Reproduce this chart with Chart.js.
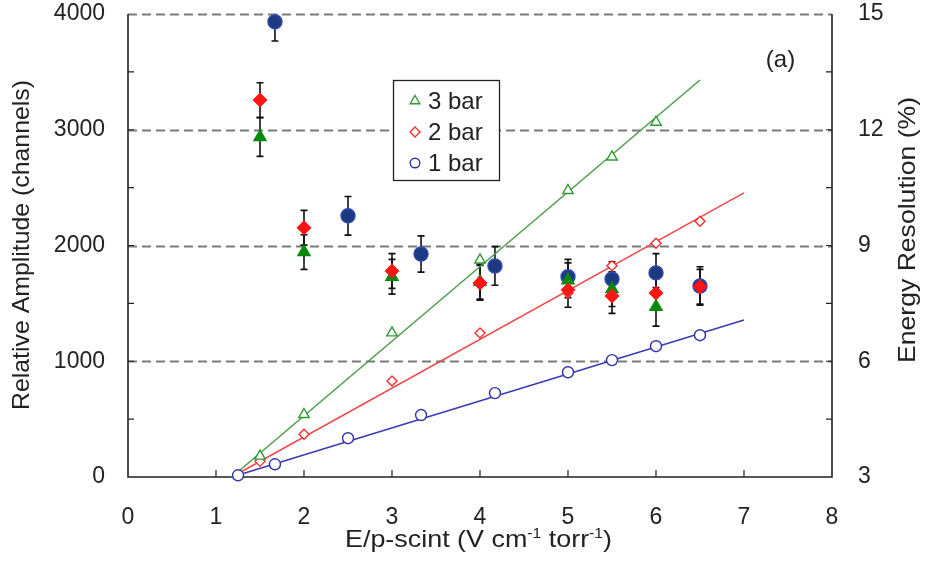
<!DOCTYPE html>
<html>
<head>
<meta charset="utf-8">
<script src="https://cdn.jsdelivr.net/npm/chart.js@4.4.1/dist/chart.umd.min.js"></script>
<style>
  body { margin: 0; background: #fff; }
  #wrap { width: 927px; height: 563px; }
</style>
</head>
<body>
<div id="wrap"><canvas id="chart" width="927" height="563"></canvas></div>
<script>
// amplitude (open markers, left axis)
const ampX3 = [1.5, 2, 3, 4, 5, 5.5, 6];
const amp3 = [180, 540, 1245, 1875, 2475, 2765, 3065];
const ampX2 = [1.5, 2, 3, 4, 5, 5.5, 6, 6.5];
const amp2 = [135, 370, 830, 1245, 1590, 1825, 2020, 2210];
const ampX1 = [1.25, 1.67, 2.5, 3.33, 4.17, 5, 5.5, 6, 6.5];
const amp1 = [15, 110, 335, 535, 725, 905, 1010, 1130, 1225];

// linear fits (end points)
const fitX3 = [1.18, 6.5];
const fit3 = [0, 3430];
const fitX2 = [1.18, 7];
const fit2 = [0, 2455];
const fitX1 = [1.18, 7];
const fit1 = [0, 1357];

// energy resolution (filled markers, right axis)
const resX3 = [1.5, 2, 3, 4, 5, 5.5, 6];
const res3 = [11.81, 8.83, 8.19, 8.06, 8.1, 7.87, 7.41];
const err3 = [0.5, 0.45, 0.45, 0.45, 0.45, 0.45, 0.5];
const resX2 = [1.5, 2, 3, 4, 5, 5.5, 6, 6.5];
const res2 = [12.77, 9.46, 8.34, 8.03, 7.85, 7.69, 7.77, 7.93];
const err2 = [0.45, 0.45, 0.45, 0.45, 0.45, 0.45, 0.45, 0.45];
const resX1 = [1.67, 2.5, 3.33, 4.17, 5, 5.5, 6, 6.5];
const res1 = [14.8, 9.77, 8.78, 8.47, 8.19, 8.13, 8.29, 7.95];
const err1 = [0.5, 0.5, 0.47, 0.5, 0.45, 0.45, 0.5, 0.5];

const legendLabels = ['3 bar', '2 bar', '1 bar'];
const xTitleParts = [['E/p-scint (V cm', false], ['-1', true], [' torr', false], ['-1', true], [')', false]];
const yTitle = 'Relative Amplitude (channels)';
const y2Title = 'Energy Resolution (%)';
const panelLabel = '(a)';

const GREEN = '#2f9a2f', RED = '#ff2a2a', BLUE = '#2f34a8';
const FONT = "'Liberation Sans', Arial, sans-serif";

function pts(xs, ys) {
    return xs.map((x, i) => ({ x: x, y: ys[i] }));
}

Chart.defaults.font.family = FONT;
Chart.defaults.font.size = 23;
Chart.defaults.color = '#222';

// text squeezed/stretched horizontally to a given width, centred on (cx, cy)
function fitText(ctx, text, cx, cy, width, angle) {
    const w = ctx.measureText(text).width;
    ctx.save();
    ctx.translate(cx, cy);
    ctx.rotate(angle);
    ctx.scale(width / w, 1);
    ctx.textAlign = 'center';
    ctx.fillText(text, 0, 0);
    ctx.restore();
}

// axes, dashed grid and inward ticks
const framePlugin = {
    id: 'frame',
    beforeDatasetsDraw(chart) {
        const { ctx, chartArea: a, scales } = chart;
        const y = scales.y, y2 = scales.y2, x = scales.x;
        ctx.save();
        ctx.strokeStyle = '#7a7a7a';
        ctx.lineWidth = 2;
        ctx.setLineDash([9, 5]);
        [1000, 2000, 3000, 4000].forEach(v => {
            const py = Math.round(y.getPixelForValue(v)) + 0.5;
            ctx.beginPath();
            ctx.moveTo(a.left, py);
            ctx.lineTo(a.right, py);
            ctx.stroke();
        });
        ctx.setLineDash([]);
        ctx.strokeStyle = '#222';
        ctx.lineWidth = 1.6;
        ctx.beginPath();
        ctx.moveTo(a.left, a.top); ctx.lineTo(a.left, a.bottom);
        ctx.lineTo(a.right, a.bottom); ctx.lineTo(a.right, a.top);
        ctx.stroke();
        ctx.lineWidth = 1.2;
        ctx.beginPath();
        for (let v = 500; v < 4000; v += 500) {
            const py = y.getPixelForValue(v);
            ctx.moveTo(a.left, py); ctx.lineTo(a.left + 6, py);
        }
        for (let v = 4.5; v < 15; v += 1.5) {
            const py = y2.getPixelForValue(v);
            ctx.moveTo(a.right, py); ctx.lineTo(a.right - 6, py);
        }
        for (let v = 1; v < 8; v++) {
            const px = x.getPixelForValue(v);
            ctx.moveTo(px, a.bottom); ctx.lineTo(px, a.bottom - 7);
        }
        ctx.stroke();

        // error bars
        ctx.beginPath();
        ctx.rect(a.left, a.top, a.right - a.left, a.bottom - a.top);
        ctx.clip();
        ctx.strokeStyle = '#111';
        ctx.lineWidth = 1.6;
        [[resX1, res1, err1], [resX3, res3, err3], [resX2, res2, err2]].forEach(([xs, ys, es]) => {
            xs.forEach((xv, i) => {
                const px = x.getPixelForValue(xv);
                const top = y2.getPixelForValue(ys[i] + es[i]);
                const bot = y2.getPixelForValue(ys[i] - es[i]);
                ctx.beginPath();
                ctx.moveTo(px, top); ctx.lineTo(px, bot);
                ctx.moveTo(px - 3.5, top); ctx.lineTo(px + 3.5, top);
                ctx.moveTo(px - 3.5, bot); ctx.lineTo(px + 3.5, bot);
                ctx.stroke();
            });
        });
        ctx.restore();
    },
    afterDatasetsDraw(chart) {
        const { ctx } = chart;
        ctx.save();
        // legend
        ctx.fillStyle = '#fff';
        ctx.strokeStyle = '#222';
        ctx.lineWidth = 1.3;
        ctx.fillRect(393, 80, 106, 100);
        ctx.strokeRect(393.5, 80.5, 106, 100);
        const styles = [
            { pointStyle: 'triangle', radius: 5.5, color: GREEN },
            { pointStyle: 'rectRot', radius: 5, color: RED },
            { pointStyle: 'circle', radius: 4.8, color: BLUE }
        ];
        ctx.font = '24px ' + FONT;
        ctx.textBaseline = 'middle';
        legendLabels.forEach((lab, i) => {
            const cy = 101 + i * 31;
            ctx.strokeStyle = styles[i].color;
            ctx.fillStyle = '#fff';
            ctx.lineWidth = 1.4;
            Chart.helpers.drawPoint(ctx, { pointStyle: styles[i].pointStyle, radius: styles[i].radius, borderWidth: 1.4, rotation: 0 }, 415, cy);
            ctx.fillStyle = '#222';
            ctx.fillText(lab, 428, cy + 1);
        });
        // panel label and axis titles
        ctx.textAlign = 'center';
        ctx.fillText(panelLabel, 780.5, 60);
        ctx.textBaseline = 'alphabetic';
        fitText(ctx, yTitle, 29, 245, 330, -Math.PI / 2);
        fitText(ctx, y2Title, 915, 230, 266, -Math.PI / 2);

        // x title with raised exponents
        const big = '24px ' + FONT, small = '14px ' + FONT;
        let total = 0;
        xTitleParts.forEach(([t, sup]) => {
            ctx.font = sup ? small : big;
            total += ctx.measureText(t).width;
        });
        const k = 267 / total;
        ctx.save();
        ctx.translate(478.5 - 267 / 2, 547);
        ctx.scale(k, 1);
        ctx.textAlign = 'left';
        let px = 0;
        xTitleParts.forEach(([t, sup]) => {
            ctx.font = sup ? small : big;
            ctx.fillText(t, px, sup ? -9 : 0);
            px += ctx.measureText(t).width;
        });
        ctx.restore();
        ctx.restore();
    }
};

function openSet(data, style, color, r) {
    return {
        data: data, yAxisID: 'y', showLine: false, pointStyle: style,
        pointRadius: r, borderColor: color, backgroundColor: '#fff',
        pointBorderWidth: 1.4, clip: false
    };
}
function filledSet(data, style, fill, edge, r) {
    return {
        data: data, yAxisID: 'y2', showLine: false, pointStyle: style,
        pointRadius: r, borderColor: edge, backgroundColor: fill,
        pointBorderWidth: 1.4, clip: false
    };
}
function fitSet(data, color) {
    return {
        data: data, yAxisID: 'y', showLine: true, pointRadius: 0,
        borderColor: color, borderWidth: 1.5, fill: false, clip: false
    };
}

function noPad(s) {
    s.paddingTop = 0;
    s.paddingBottom = 0;
    s.paddingLeft = 0;
    s.paddingRight = 0;
}

const ctx = document.getElementById('chart').getContext('2d');
new Chart(ctx, {
    type: 'scatter',
    data: {
        datasets: [
            filledSet(pts(resX2, res2), 'rectRot', '#ff1414', '#ff1414', 6.5),
            filledSet(pts(resX3, res3), 'triangle', '#0a8a0a', '#0a8a0a', 7),
            filledSet(pts(resX1, res1), 'circle', '#1d3a80', '#3048b0', 7),
            openSet(pts(ampX3, amp3), 'triangle', GREEN, 6),
            openSet(pts(ampX2, amp2), 'rectRot', RED, 5),
            openSet(pts(ampX1, amp1), 'circle', BLUE, 5.5),
            fitSet(pts(fitX3, fit3), '#4a9e4a'),
            fitSet(pts(fitX2, fit2), '#f04848'),
            fitSet(pts(fitX1, fit1), '#3a3ab4')
        ]
    },
    options: {
        responsive: false,
        animation: false,
        layout: { padding: { top: 14, left: 0, right: 0, bottom: 0 } },
        plugins: { legend: { display: false }, tooltip: { enabled: false } },
        scales: {
            x: {
                type: 'linear', min: 0, max: 8,
                grid: { display: false, drawTicks: false },
                border: { display: false },
                ticks: { stepSize: 1, padding: 27, maxRotation: 0, callback: v => String(v) },
                afterFit(s) { s.height = 86; noPad(s); }
            },
            y: {
                position: 'left', min: 0, max: 4000,
                grid: { display: false, drawTicks: false },
                border: { display: false },
                ticks: { stepSize: 1000, padding: 23, callback: v => String(v) },
                afterFit(s) { s.width = 128; noPad(s); }
            },
            y2: {
                position: 'right', min: 3, max: 15,
                grid: { display: false, drawTicks: false },
                border: { display: false },
                ticks: { stepSize: 3, padding: 26, callback: v => String(v) },
                afterFit(s) { s.width = 95; noPad(s); }
            }
        }
    },
    plugins: [framePlugin]
});
</script>
</body>
</html>
